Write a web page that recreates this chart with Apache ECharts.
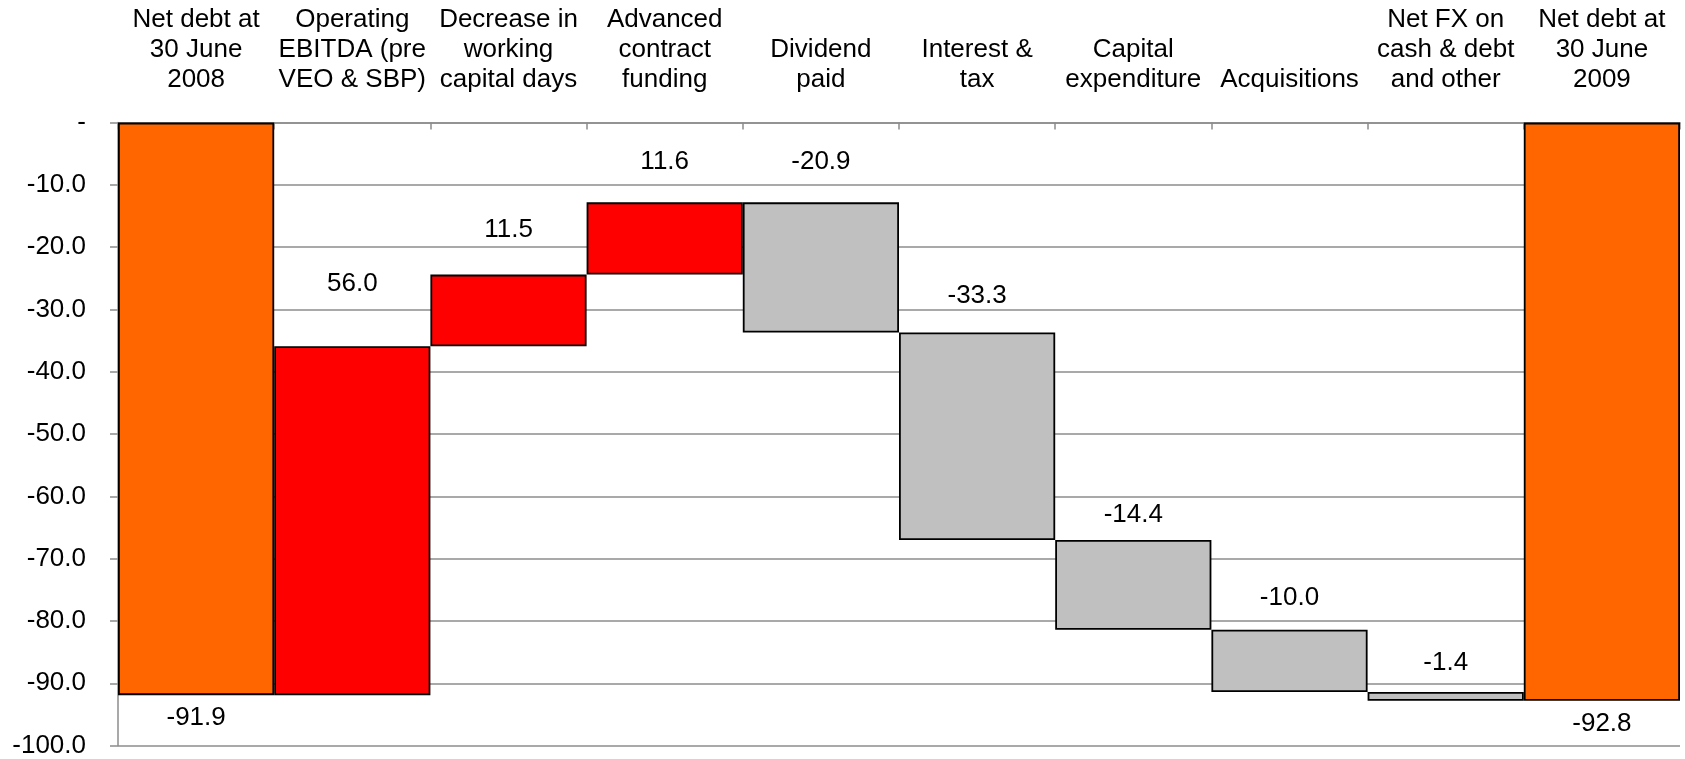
<!DOCTYPE html>
<html>
<head>
<meta charset="utf-8">
<script src="https://cdn.jsdelivr.net/npm/echarts@6/dist/echarts.min.js"></script>
<style>
html,body{margin:0;padding:0;background:#fff;}
#chart{width:1685px;height:759px;}
</style>
</head>
<body>
<div id="chart"></div>
<script>
// ---- data ----
const categories = [
  "Net debt at\n30 June\n2008",
  "Operating\nEBITDA (pre\nVEO & SBP)",
  "Decrease in\nworking\ncapital days",
  "Advanced\ncontract\nfunding",
  "Dividend\npaid",
  "Interest &\ntax",
  "Capital\nexpenditure",
  "Acquisitions",
  "Net FX on\ncash & debt\nand other",
  "Net debt at\n30 June\n2009"
];
const openingNetDebt = -91.9;
const changes = [56.0, 11.5, 11.6, -20.9, -33.3, -14.4, -10.0, -1.4];
const closingNetDebt = -92.8;
const yTicks = [0, -10, -20, -30, -40, -50, -60, -70, -80, -90, -100];

// ---- build waterfall series from the values ----
const r1 = v => Math.round(v * 10) / 10;
const baseVals = [];
const barVals = [];
const kinds = [];
const labelTexts = [];
baseVals.push(0); barVals.push(openingNetDebt); kinds.push('total'); labelTexts.push(openingNetDebt.toFixed(1));
let level = openingNetDebt;
changes.forEach(c => {
  const start = level, end = r1(level + c);
  const top = Math.max(start, end), bottom = Math.min(start, end);
  baseVals.push(r1(top));
  barVals.push(r1(bottom - top));
  kinds.push(c >= 0 ? 'up' : 'down');
  labelTexts.push(c.toFixed(1));
  level = end;
});
baseVals.push(0); barVals.push(closingNetDebt); kinds.push('total'); labelTexts.push(closingNetDebt.toFixed(1));

// ---- styles ----
const FONT = "'Liberation Sans', Arial, sans-serif";
const colorFor = {total: '#FF6600', up: '#FF0000', down: '#C0C0C0'};
const labelDist = [10, 49, 32, 28, 28, 24, 12, 19, 16, 10];

const barData = barVals.map((v, i) => ({
  value: v,
  itemStyle: {color: colorFor[kinds[i]]},
  label: {
    position: kinds[i] === 'total' ? 'bottom' : 'top',
    distance: labelDist[i]
  }
}));

const chart = echarts.init(document.getElementById('chart'), null, {renderer: 'canvas'});
chart.setOption({
  animation: false,
  backgroundColor: '#ffffff',
  textStyle: {fontFamily: FONT},
  grid: {left: 118, right: 5, top: 122.6, bottom: 13.4, containLabel: false},
  xAxis: {
    type: 'category',
    position: 'top',
    data: categories,
    axisLine: {show: true, lineStyle: {color: '#8c8c8c', width: 1.5}},
    axisTick: {show: true, inside: true, length: 7, lineStyle: {color: '#8c8c8c', width: 1.5}},
    axisLabel: {
      interval: 0, color: '#000', fontSize: 26, lineHeight: 30,
      fontFamily: FONT, margin: 28, align: 'center'
    },
    splitLine: {show: false}
  },
  yAxis: {
    type: 'value',
    min: -100, max: 0, interval: 10,
    axisLine: {show: true, lineStyle: {color: '#8c8c8c', width: 1.5}},
    axisTick: {show: true, length: 8, lineStyle: {color: '#8c8c8c', width: 1.5}},
    axisLabel: {
      color: '#000', fontSize: 26, fontFamily: FONT, margin: 32,
      formatter: v => (v === 0 ? '-' : v.toFixed(1))
    },
    splitLine: {show: true, lineStyle: {color: '#8c8c8c', width: 1.5}}
  },
  series: [
    {
      type: 'bar', stack: 'wf', data: baseVals, silent: true,
      barCategoryGap: '0%',
      itemStyle: {color: 'rgba(0,0,0,0)', borderWidth: 0},
      emphasis: {disabled: true}
    },
    {
      type: 'bar', stack: 'wf', data: barData,
      barCategoryGap: '0%',
      itemStyle: {borderColor: '#000', borderWidth: 1.8},
      label: {
        show: true, color: '#000', fontSize: 26, fontFamily: FONT, lineHeight: 26,
        formatter: p => labelTexts[p.dataIndex]
      }
    }
  ]
});
</script>
</body>
</html>
